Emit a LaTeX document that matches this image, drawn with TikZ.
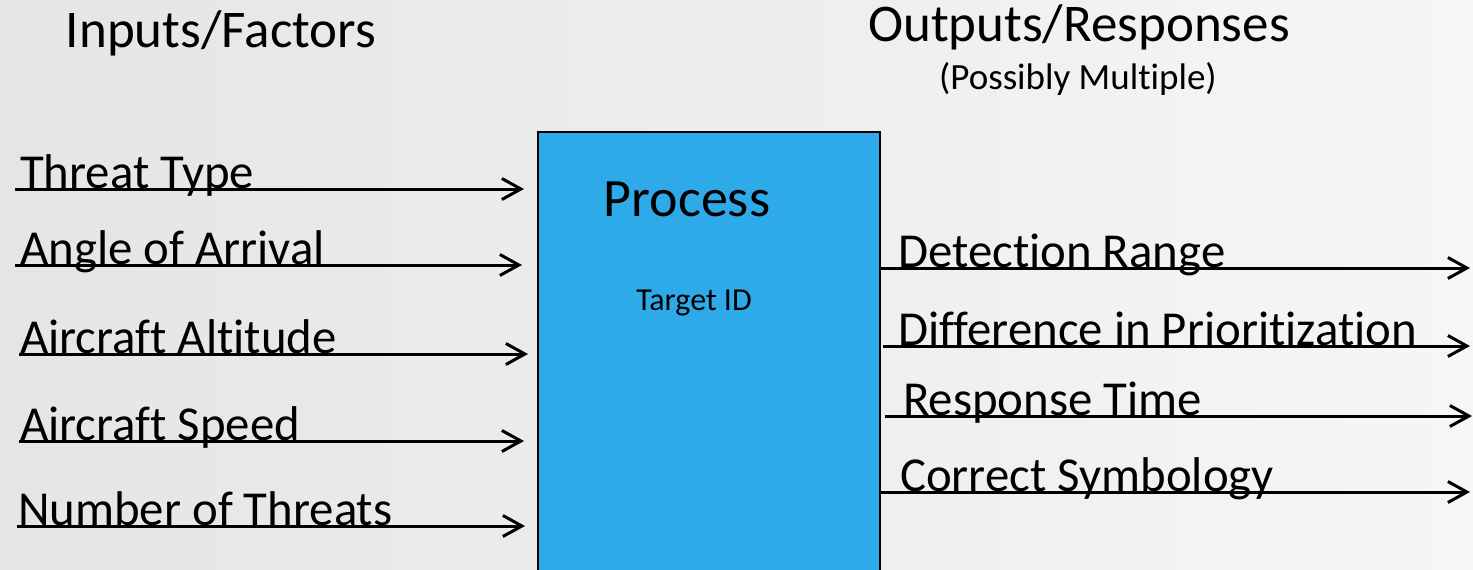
\documentclass[tikz,border=0pt]{standalone}
\usepackage{fontspec}
\setmainfont{Carlito}[Ligatures=NoCommon]
\usetikzlibrary{arrows.meta}
\definecolor{procblue}{RGB}{46,170,233}
\definecolor{bgleft}{RGB}{228,229,230}
\definecolor{bgright}{RGB}{246,246,246}
\tikzset{
  lbl/.style={anchor=base west, inner sep=0pt, font=\fontsize{48.8}{56}\selectfont},
  ttl/.style={anchor=base, inner sep=0pt, font=\fontsize{53}{62}\selectfont},
  flow/.style={line width=3pt, -{Straight Barb[length=19pt,width=21pt,line width=3pt]}},
  procbox/.style={draw=black, line width=2pt, fill=procblue, inner sep=0pt, outer sep=0pt,
    minimum width=342pt, minimum height=442pt, anchor=north west}
}
\begin{document}
\begin{tikzpicture}[x=1pt,y=-1pt]
\useasboundingbox (0,0) rectangle (1473,570);
\clip (0,0) rectangle (1473,570);
\shade[left color=bgleft, right color=bgright] (0,0) rectangle (1473,570);

% headings
\node[ttl] (inhead) at (221,47) {Inputs/Factors};
\node[ttl] (outhead) at (1079,41) {Outputs/Responses};
\node[ttl, font=\fontsize{37}{44}\selectfont] (outsub) at (1078,89) {(Possibly Multiple)};

% process block
\node[procbox] (proc) at (538,132) {};
\node[anchor=base, inner sep=0pt, font=\fontsize{54}{64}\selectfont] (proctitle) at (687,216) {Process};
\node[anchor=base, inner sep=0pt, font=\fontsize{32}{38}\selectfont] (procsub) at (694,310) {Target ID};

% inputs
\node[lbl] (in1) at (20,188) {Threat Type};
\node[lbl] (in2) at (20,264) {Angle of Arrival};
\node[lbl] (in3) at (20,353) {Aircraft Altitude};
\node[lbl] (in4) at (20,440) {Aircraft Speed};
\node[lbl] (in5) at (18,525) {Number of Threats};

\coordinate (s1) at (15,189);  \coordinate (e1) at (524,189);
\coordinate (s2) at (15,265);  \coordinate (e2) at (522,265);
\coordinate (s3) at (19,354);  \coordinate (e3) at (528,354);
\coordinate (s4) at (19,441);  \coordinate (e4) at (524,441);
\coordinate (s5) at (17,526);  \coordinate (e5) at (525,526);
\foreach \i in {1,...,5}{\draw[flow] (s\i) -- (e\i);}

% outputs
\node[lbl] (out1) at (898,267) {Detection Range};
\node[lbl] (out2) at (898,345) {Difference in Prioritization};
\node[lbl] (out3) at (903,415) {Response Time};
\node[lbl] (out4) at (900,491) {Correct Symbology};

\coordinate (t1) at (1470,268);
\coordinate (t2) at (1470,346);
\coordinate (t3) at (1472,416);
\coordinate (t4) at (1470,492);
\draw[flow] (proc.east |- t1) -- (t1);
\draw[flow] ([xshift=3pt]proc.east |- t2) -- (t2);
\draw[flow] ([xshift=5pt]proc.east |- t3) -- (t3);
\draw[flow] (proc.east |- t4) -- (t4);
\end{tikzpicture}
\end{document}
